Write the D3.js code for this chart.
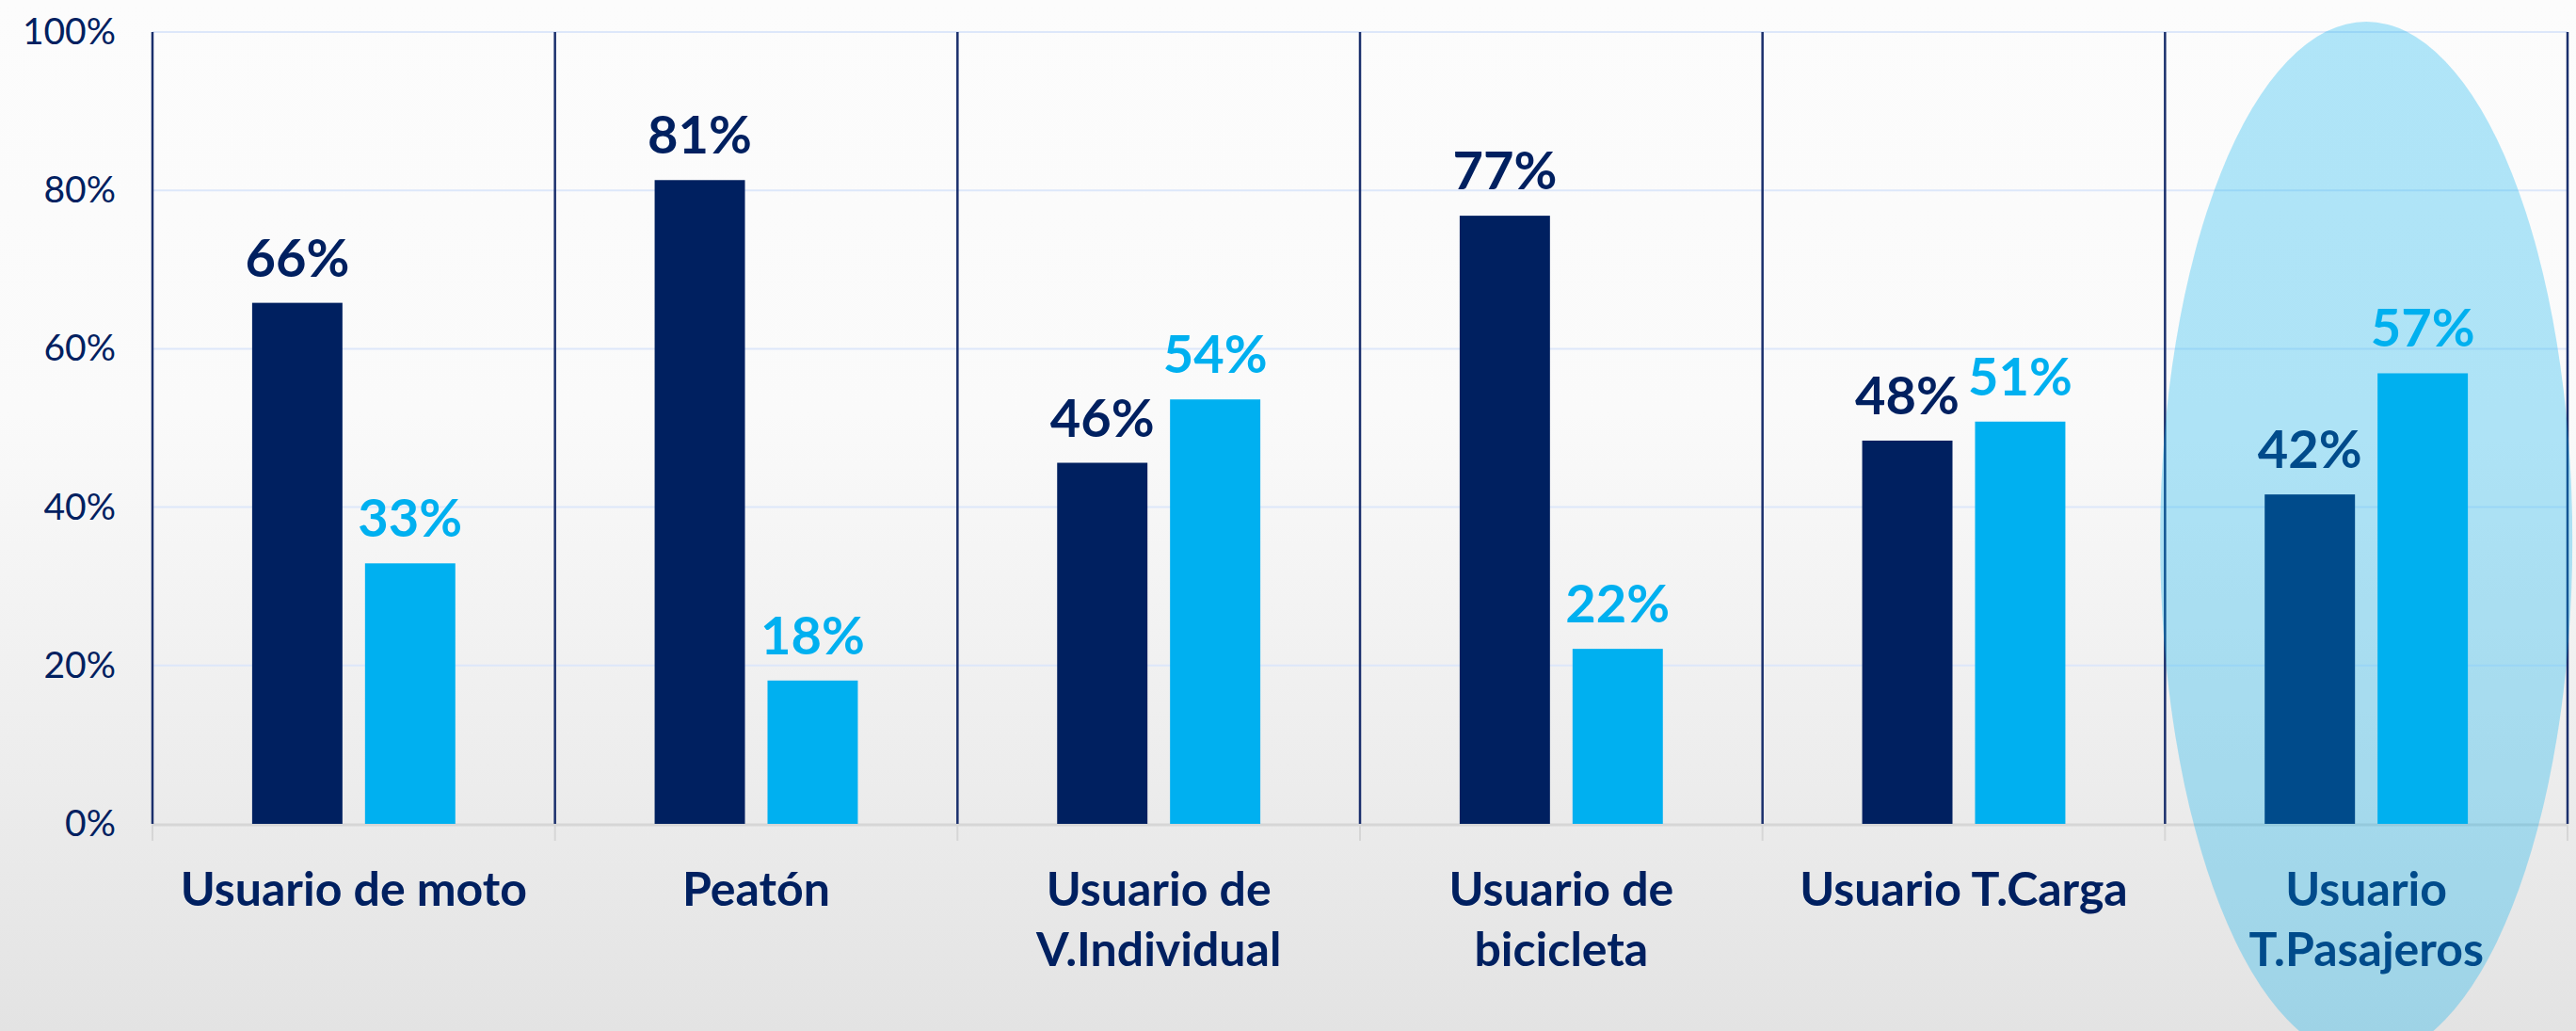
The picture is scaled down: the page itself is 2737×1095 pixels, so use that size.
<!DOCTYPE html>
<html>
<head>
<meta charset="utf-8">
<script src="https://cdn.jsdelivr.net/npm/d3@7"></script>
<style>
  html, body { margin: 0; padding: 0; }
  body { width: 2737px; height: 1095px; overflow: hidden; }
  svg { display: block; }
</style>
</head>
<body>
<svg id="chart" width="2737" height="1095"></svg>
<script>
// ---- data ----
const categories = ["Usuario de moto", "Peatón", "Usuario de V.Individual", "Usuario de bicicleta", "Usuario T.Carga", "Usuario T.Pasajeros"];
const categoryLines = [["Usuario de moto"], ["Peatón"], ["Usuario de", "V.Individual"], ["Usuario de", "bicicleta"], ["Usuario T.Carga"], ["Usuario", "T.Pasajeros"]];
const seriesNames = ["Serie 1", "Serie 2"];
const series1 = [65.8, 81.3, 45.6, 76.8, 48.4, 41.6];
const series2 = [32.9, 18.1, 53.6, 22.1, 50.8, 56.9];
const yTicks = [0, 20, 40, 60, 80, 100];
const highlighted = "Usuario T.Pasajeros";

(function () {
// ---- layout ----
const W = 2737, H = 1095;
const pLeft = 162, pRight = 2728, pTop = 34, pBottom = 875;
const navy = "#002060", light = "#00B0F0";

const svg = d3.select("#chart");
const defs = svg.append("defs");
const grad = defs.append("linearGradient").attr("id", "bg").attr("x1", 0).attr("y1", 0).attr("x2", 0).attr("y2", 1);
grad.append("stop").attr("offset", "0%").attr("stop-color", "#FCFCFC");
grad.append("stop").attr("offset", "40%").attr("stop-color", "#FAFAFA");
grad.append("stop").attr("offset", "100%").attr("stop-color", "#E3E3E3");
svg.append("rect").attr("width", W).attr("height", H).attr("fill", "url(#bg)");

const x0 = d3.scaleBand().domain(categories).range([pLeft, pRight]).padding(0);
const x1 = d3.scaleBand().domain(seriesNames).range([0, x0.bandwidth()]).paddingInner(0.2).paddingOuter(0.883);
const y = d3.scaleLinear().domain([0, 100]).range([pBottom, pTop]);

// gridlines
svg.append("g").selectAll("line").data(yTicks.filter(d => d > 0)).join("line")
  .attr("x1", pLeft).attr("x2", pRight)
  .attr("y1", d => y(d)).attr("y2", d => y(d))
  .attr("stroke", "#DDE7FA").attr("stroke-width", 2);

// y axis labels
const yAxis = d3.axisLeft(y).tickValues(yTicks).tickFormat(d => d + "%").tickSize(0).tickPadding(39);
const gy = svg.append("g").attr("transform", `translate(${pLeft},0)`).call(yAxis);
gy.select(".domain").remove();
gy.selectAll("text").attr("fill", navy).style("font-family", "Lato, sans-serif").style("font-size", "39px");

// baseline and ticks
svg.append("line").attr("x1", pLeft).attr("x2", pRight).attr("y1", pBottom + 1).attr("y2", pBottom + 1)
  .attr("stroke", "#D6D6D6").attr("stroke-width", 3);
const boundaries = categories.map(c => x0(c)).concat([x0(categories[categories.length - 1]) + x0.bandwidth()]);
svg.append("g").selectAll("line").data(boundaries).join("line")
  .attr("x1", d => d).attr("x2", d => d).attr("y1", pBottom).attr("y2", pBottom + 18)
  .attr("stroke", "#D6D6D6").attr("stroke-width", 2);

// vertical dividers
svg.append("g").selectAll("line").data(boundaries).join("line")
  .attr("x1", d => d).attr("x2", d => d).attr("y1", pTop).attr("y2", pBottom)
  .attr("stroke", "#1A2F6C").attr("stroke-width", 2.5);

// bars
const rows = categories.map((c, i) => ({ cat: c, vals: [{ s: seriesNames[0], v: series1[i] }, { s: seriesNames[1], v: series2[i] }] }));
const colors = d3.scaleOrdinal().domain(seriesNames).range([navy, light]);
const groups = svg.append("g").selectAll("g").data(rows).join("g")
  .attr("transform", d => `translate(${x0(d.cat)},0)`);
groups.selectAll("rect").data(d => d.vals).join("rect")
  .attr("x", d => x1(d.s)).attr("width", x1.bandwidth())
  .attr("y", d => y(d.v)).attr("height", d => y(0) - y(d.v))
  .attr("fill", d => colors(d.s));
groups.selectAll("text").data(d => d.vals).join("text")
  .attr("x", d => x1(d.s) + x1.bandwidth() / 2)
  .attr("y", d => y(d.v) - 28)
  .attr("text-anchor", "middle")
  .attr("fill", d => colors(d.s))
  .style("font-family", "Lato, sans-serif").style("font-weight", 700).style("font-size", "56px")
  .text(d => d3.format(".0f")(d.v) + "%");

// category labels
const labels = svg.append("g").selectAll("text").data(categories).join("text")
  .attr("x", c => x0(c) + x0.bandwidth() / 2)
  .attr("y", 962)
  .attr("text-anchor", "middle")
  .attr("fill", navy)
  .style("font-family", "Lato, sans-serif").style("font-weight", 700).style("font-size", "50px");
labels.each(function (c, i) {
  const t = d3.select(this);
  categoryLines[i].forEach((line, j) => {
    t.append("tspan").attr("x", x0(c) + x0.bandwidth() / 2).attr("dy", j === 0 ? 0 : 64).text(line);
  });
});

// highlight ellipse
const hx = x0(highlighted) + x0.bandwidth() / 2;
svg.append("ellipse")
  .attr("cx", hx).attr("cy", 574).attr("rx", 219).attr("ry", 551)
  .attr("fill", light).attr("fill-opacity", 0.3);
})();
</script>
</body>
</html>
